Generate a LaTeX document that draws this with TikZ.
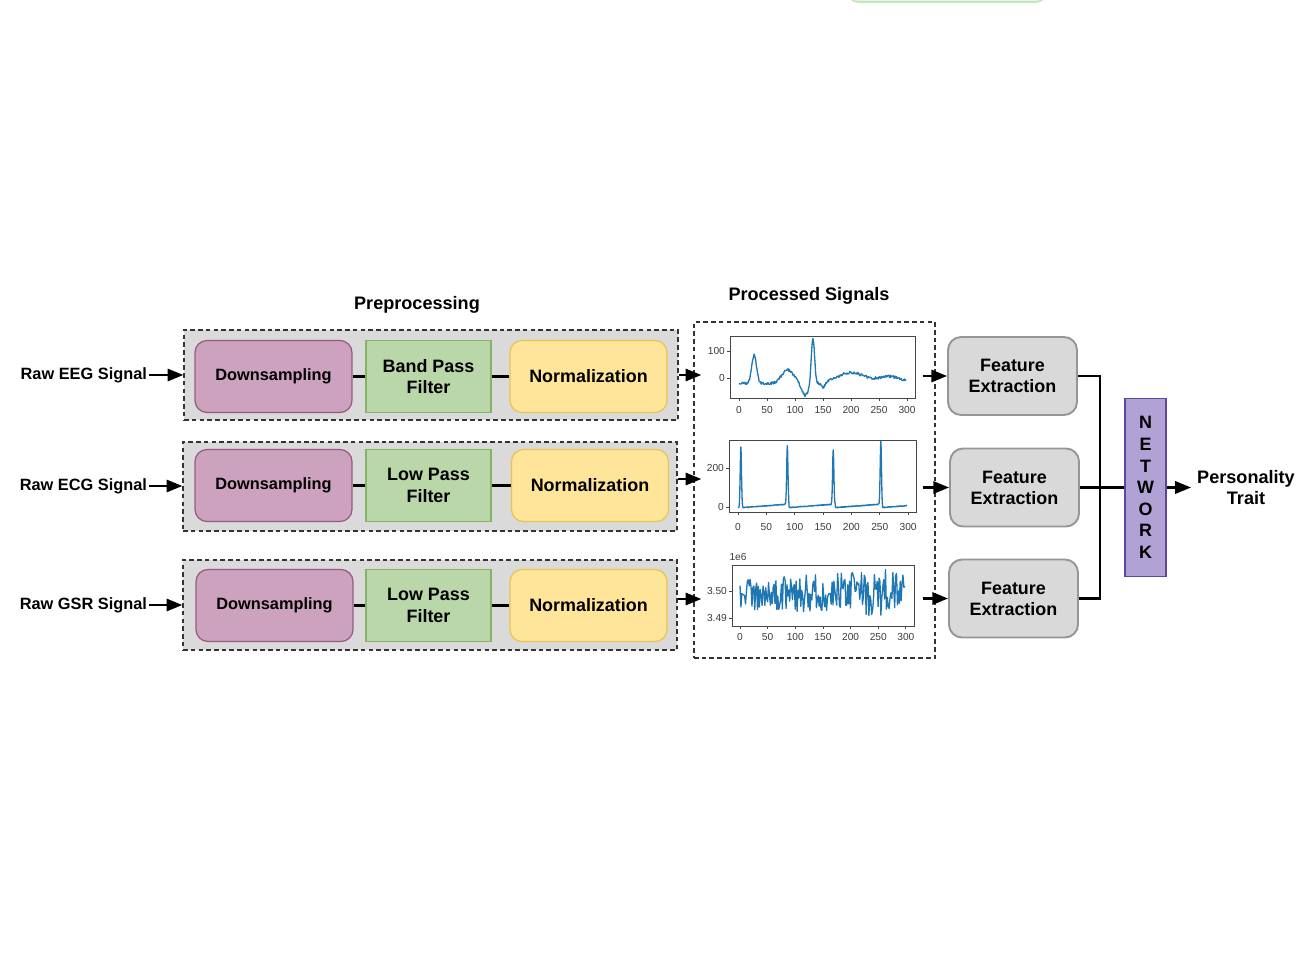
\documentclass[tikz,border=0pt]{standalone}
\usepackage{fontspec}
\setmainfont{Liberation Sans}
\usetikzlibrary{arrows.meta}

\definecolor{grpfill}{RGB}{218,218,218}
\definecolor{grpline}{RGB}{51,51,51}
\definecolor{dsfill}{RGB}{205,162,190}
\definecolor{dsline}{RGB}{150,90,130}
\definecolor{fltfill}{RGB}{185,215,168}
\definecolor{fltline}{RGB}{130,179,102}
\definecolor{nrmfill}{RGB}{254,229,154}
\definecolor{nrmline}{RGB}{232,196,80}
\definecolor{fefill}{RGB}{217,217,217}
\definecolor{feline}{RGB}{150,150,150}
\definecolor{netfill}{RGB}{177,162,214}
\definecolor{netline}{RGB}{94,70,160}
\definecolor{sigblue}{RGB}{31,119,180}
\definecolor{axgray}{RGB}{70,70,70}
\definecolor{ticktext}{RGB}{60,60,60}
\definecolor{topfill}{RGB}{228,244,224}
\definecolor{topline}{RGB}{196,230,188}

\begin{document}
\begin{tikzpicture}[x=0.02cm, y=-0.02cm,
  lbl/.style={font=\bfseries\fontsize{9.3}{11}\selectfont},
  ttl/.style={font=\bfseries\fontsize{10.3}{12.3}\selectfont},
  grp/.style={draw=grpline, fill=grpfill, dash pattern=on 2.6pt off 1.8pt, line width=0.8pt, minimum width=9.88cm},
  dsbox/.style={draw=dsline, fill=dsfill, rounded corners=0.24cm, line width=0.7pt, minimum width=3.14cm, minimum height=1.44cm, font=\bfseries\fontsize{9.3}{11}\selectfont},
  fltbox/.style={draw=fltline, fill=fltfill, line width=0.7pt, minimum width=2.5cm, minimum height=1.44cm, align=center, font=\bfseries\fontsize{10.2}{12.4}\selectfont},
  nrmbox/.style={draw=nrmline, fill=nrmfill, rounded corners=0.24cm, line width=0.7pt, minimum width=3.14cm, minimum height=1.44cm, font=\bfseries\fontsize{10.2}{12.4}\selectfont},
  febox/.style={draw=feline, fill=fefill, rounded corners=0.26cm, line width=1.1pt, minimum width=2.58cm, minimum height=1.56cm, align=center, font=\bfseries\fontsize{10.2}{12}\selectfont},
  netbox/.style={draw=netline, fill=netfill, line width=1pt, minimum width=0.82cm, minimum height=3.56cm, align=center, font=\bfseries\fontsize{10.2}{12.33}\selectfont},
  ln/.style={line width=1.3pt},
  arr/.style={line width=1.3pt, -{Triangle[length=9pt,width=7pt]}},
  frm/.style={draw=axgray, line width=0.5pt},
  sig/.style={draw=sigblue, line width=0.75pt, line join=round},
  tck/.style={font=\fontsize{5.8}{6}\selectfont, text=ticktext, inner sep=1pt},
  declare function={bump(\m,\s,\t)=exp(0-min(abs((\t-\m)/\s),4)^2);}
]

\useasboundingbox (0,0) rectangle (1310,973);

\begin{scope}
\clip (0,0) rectangle (1310,973);
\draw [draw=topline, fill=topfill, line width=1pt, rounded corners=0.2cm] (848,-40) rectangle (1046,2);
\end{scope}

% preprocessing groups
\node [ttl] (pretitle) at (417,305) {Preprocessing};

\node [grp, minimum height=1.8cm] (pre1) at (431,375) {};
\node [grp, minimum height=1.78cm] (pre2) at (430,486.5) {};
\node [grp, minimum height=1.8cm] (pre3) at (430,605) {};

\node [dsbox] (ds1) at (273.5,376.5) {Downsampling};
\node [fltbox] (flt1) at (428.5,376.5) {Band Pass\\Filter};
\node [nrmbox] (nrm1) at (588.5,376.5) {Normalization};

\node [dsbox] (ds2) at (273.5,485.5) {Downsampling};
\node [fltbox] (flt2) at (428.5,485.5) {Low Pass\\Filter};
\node [nrmbox] (nrm2) at (590,485.5) {Normalization};

\node [dsbox] (ds3) at (274.5,605.5) {Downsampling};
\node [fltbox] (flt3) at (428.5,605.5) {Low Pass\\Filter};
\node [nrmbox] (nrm3) at (588.5,605.5) {Normalization};

\draw [ln] (ds1) -- (flt1);
\draw [ln] (flt1) -- (nrm1);
\draw [ln] (ds2) -- (flt2);
\draw [ln] (flt2) -- (nrm2);
\draw [ln] (ds3) -- (flt3);
\draw [ln] (flt3) -- (nrm3);

% raw inputs
\node [lbl, anchor=east, inner sep=1pt] (eeg) at (149,375) {Raw EEG Signal};
\node [lbl, anchor=east, inner sep=1pt] (ecg) at (149,486) {Raw ECG Signal};
\node [lbl, anchor=east, inner sep=1pt] (gsr) at (149,605) {Raw GSR Signal};

\draw [arr] (eeg.east) -- (eeg.east -| pre1.west);
\draw [arr] (ecg.east) -- (ecg.east -| pre2.west);
\draw [arr] (gsr.east) -- (gsr.east -| pre3.west);

% processed signals
\node [ttl] (proctitle) at (809,296) {Processed Signals};
\node [draw=grpline, dash pattern=on 2.6pt off 1.8pt, line width=0.8pt, minimum width=4.82cm, minimum height=6.72cm] (proc) at (814.5,490) {};

\draw [arr] (pre1.east) -- ([xshift=0.16cm]pre1.east -| proc.west);
\draw [arr] ([yshift=0.15cm]pre2.east) -- ([yshift=0.15cm, xshift=0.16cm]pre2.east -| proc.west);
\draw [arr] ([yshift=0.12cm]pre3.east) -- ([yshift=0.12cm, xshift=0.16cm]pre3.east -| proc.west);

% EEG plot
\draw [frm] (730,336) rectangle (915,398);
\foreach \v in {0,50,...,300} {
  \draw [frm] ({739+0.56*\v},398) -- ++(0,3);
  \node [tck] (a\v) at ({739+0.56*\v},410) {\v};
}
\draw [frm] (730,351) -- ++(-3,0);
\draw [frm] (730,378) -- ++(-3,0);
\node [tck, anchor=east] (ay100) at (727,351) {100};
\node [tck, anchor=east] (ay0) at (727,378) {0};
\pgfmathsetseed{11}
\begin{scope}[shift={(739,378)}, x={(0.0112cm,0cm)}, y={(0cm,0.0054cm)}]
\draw [sig] plot [domain=0:298, samples=299] (\x, {-20 + 105*bump(27,6,\x) + 50*bump(87,15,\x) - 45*bump(118,8,\x) + 170*bump(132,4,\x) - 20*bump(150,5,\x) + 40*bump(200,35,\x) + 25*bump(270,30,\x) + 5*rand});
\end{scope}

% ECG plot
\draw [frm] (729,440) rectangle (916,512);
\foreach \v in {0,50,...,300} {
  \draw [frm] ({738+0.567*\v},512) -- ++(0,3);
  \node [tck] (b\v) at ({738+0.567*\v},527) {\v};
}
\draw [frm] (729,468) -- ++(-3,0);
\draw [frm] (729,507) -- ++(-3,0);
\node [tck, anchor=east] (by200) at (726,468) {200};
\node [tck, anchor=east] (by0) at (726,507) {0};
\begin{scope}[shift={(738,507)}, x={(0.01134cm,0cm)}, y={(0cm,0.0039cm)}]
\draw [sig] plot [domain=0:298, samples=597] (\x, {-3 + 18*mod(\x-8,82)/82 + 310*bump(5,1.6,\x) + 300*bump(87,1.6,\x) + 280*bump(168,1.6,\x) + 320*bump(252,1.6,\x) + 2*rand});
\end{scope}

% GSR plot
\draw [frm] (732,565) rectangle (914,626);
\foreach \v in {0,50,...,300} {
  \draw [frm] ({740+0.553*\v},626) -- ++(0,3);
  \node [tck] (c\v) at ({740+0.553*\v},637) {\v};
}
\draw [frm] (732,591) -- ++(-3,0);
\draw [frm] (732,618) -- ++(-3,0);
\node [tck, anchor=east] (cy350) at (729,591) {3.50};
\node [tck, anchor=east] (cy349) at (729,618) {3.49};
\node [tck] (cexp) at (738,557) {1e6};
\begin{scope}[shift={(740,591)}, x={(0.01106cm,0cm)}, y={(0cm,0.054cm)}]
\draw [sig] plot [domain=0:298, samples=180] (\x, {(6.5 + 3*(\x/300)^2)*rand - 0.8});
\end{scope}

% features and network
\node [febox] (fe1) at (1012.5,376) {Feature\\Extraction};
\node [febox] (fe2) at (1014.5,487.5) {Feature\\Extraction};
\node [febox] (fe3) at (1013.5,598.5) {Feature\\Extraction};

\draw [arr] ([xshift=-0.26cm]proc.east |- fe1.west) -- (fe1.west);
\draw [arr] ([xshift=-0.26cm]proc.east |- fe2.west) -- (fe2.west);
\draw [arr] ([xshift=-0.26cm]proc.east |- fe3.west) -- (fe3.west);

\node [netbox] (net) at (1145.5,487.5) {N\\E\\T\\W\\O\\R\\K};
\coordinate (bus) at (1100,487.5);
\draw [ln] (fe1.east) -| (bus) |- (fe3.east);
\draw [ln] (fe2.east) -- (net.west);

\node [ttl, align=center] (trait) at (1246,487.5) {Personality\\Trait};
\draw [arr] (net.east) -- (trait.west);

\end{tikzpicture}
\end{document}
